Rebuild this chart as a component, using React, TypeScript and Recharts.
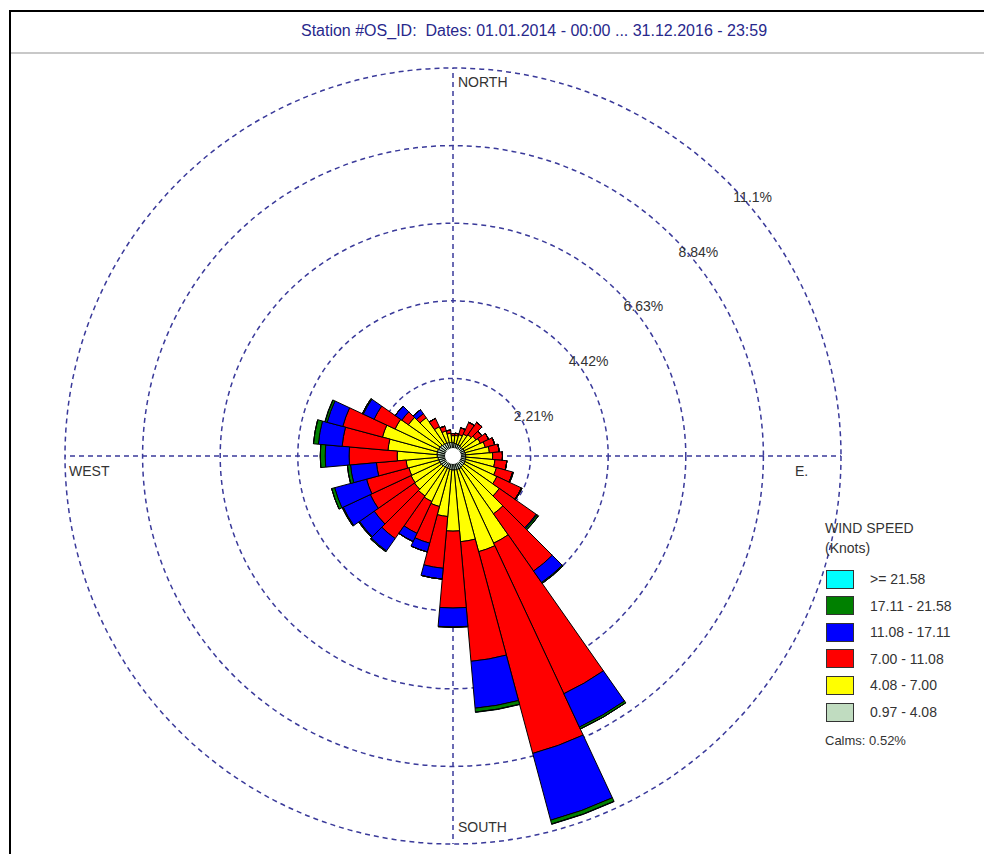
import React from 'react';
import {
  RadialBarChart,
  RadialBar,
  PolarGrid,
  PolarAngleAxis,
  PolarRadiusAxis
} from 'recharts';

// 36 sectors, 10 degrees each, clockwise from north
const directions = [
  '0', '10', '20', '30', '40', '50', '60', '70', '80',
  '90', '100', '110', '120', '130', '140', '150', '160', '170',
  '180', '190', '200', '210', '220', '230', '240', '250', '260',
  '270', '280', '290', '300', '310', '320', '330', '340', '350'
];

// frequency (%) per speed class
const speed0to4 = [
  0.38, 0.36, 0.35, 0.35, 0.34, 0.34, 0.35, 0.35, 0.36,
  0.36, 0.37, 0.37, 0.38, 0.38, 0.39, 0.40, 0.40, 0.40,
  0.40, 0.39, 0.38, 0.38, 0.39, 0.40, 0.41, 0.42, 0.43,
  0.45, 0.46, 0.46, 0.45, 0.44, 0.42, 0.41, 0.40, 0.39
];
const speed4to7 = [
  0.20, 0.23, 0.28, 0.34, 0.40, 0.46, 0.51, 0.60, 0.68,
  0.77, 0.83, 0.91, 1.00, 1.23, 1.62, 2.34, 2.42, 2.05,
  1.74, 1.34, 1.11, 1.05, 1.00, 0.94, 0.91, 0.88, 0.91,
  1.14, 1.40, 1.62, 1.37, 1.11, 0.91, 0.51, 0.34, 0.26
];
const speed7to11 = [
  0.06, 0.06, 0.20, 0.37, 0.43, 0.20, 0.26, 0.28, 0.28,
  0.28, 0.34, 0.48, 0.77, 1.28, 1.99, 4.73, 5.95, 3.42,
  2.19, 1.48, 1.08, 1.00, 1.48, 1.40, 1.28, 1.25, 0.85,
  1.37, 1.31, 1.17, 0.66, 0.23, 0.14, 0.26, 0.14, 0.09
];
const speed11to17 = [
  0, 0, 0, 0, 0, 0, 0, 0, 0,
  0, 0, 0, 0, 0.03, 0.40, 1.05, 1.97, 1.34,
  0.54, 0.31, 0.26, 0.26, 0.43, 0.51, 0.85, 0.94, 0.74,
  0.68, 0.68, 0.46, 0.34, 0.23, 0.14, 0, 0, 0
];
const speed17to21 = [
  0, 0, 0, 0, 0, 0, 0, 0, 0,
  0, 0, 0.02, 0.02, 0.05, 0.03, 0.06, 0.11, 0.11,
  0.01, 0, 0, 0, 0.03, 0.03, 0.03, 0.09, 0.09,
  0.14, 0.14, 0.06, 0.03, 0, 0, 0, 0, 0
];
const speedOver21 = [
  0, 0, 0, 0, 0, 0, 0, 0, 0,
  0, 0, 0, 0, 0, 0, 0, 0.01, 0.01,
  0, 0, 0, 0, 0, 0, 0, 0, 0,
  0, 0, 0.01, 0, 0, 0, 0, 0, 0
];

const ringTicks = [2.21, 4.42, 6.63, 8.84, 11.05];
const compassNames: Record<string, string> = {
  '0': 'NORTH',
  '90': 'E.',
  '180': 'SOUTH',
  '270': 'WEST'
};
const calmsText = 'Calms: 0.52%';
const titleText = 'Station #OS_ID:  Dates: 01.01.2014 - 00:00 ... 31.12.2016 - 23:59';

const data = directions.map((dir, i) => ({
  dir,
  s1: speed0to4[i],
  s2: speed4to7[i],
  s3: speed7to11[i],
  s4: speed11to17[i],
  s5: speed17to21[i],
  s6: speedOver21[i]
}));

// bottom of the stack first
const bins = [
  { key: 's1', label: '0.97 - 4.08', color: '#c0dcc0' },
  { key: 's2', label: '4.08 - 7.00', color: '#ffff00' },
  { key: 's3', label: '7.00 - 11.08', color: '#ff0000' },
  { key: 's4', label: '11.08 - 17.11', color: '#0000ff' },
  { key: 's5', label: '17.11 - 21.58', color: '#008000' },
  { key: 's6', label: '>= 21.58', color: '#00ffff' }
];

const FONT = '"Liberation Sans", Arial, sans-serif';
const CX = 453;
const CY = 456;
const GRID = '#3a3a9a';

// label offset from the tick point (tick sits on the sector edge)
const compassOffset: Record<string, [number, number]> = {
  '0': [-29.5, 25.5],
  '90': [-52.5, -14.5],
  '180': [39.5, -18.5],
  '270': [10.5, 54.5]
};

function CompassTick(props: any) {
  const { x, y, payload } = props;
  const name = compassNames[payload.value];
  if (!name) return null;
  const [dx, dy] = compassOffset[payload.value];
  return (
    <text x={x + dx} y={y + dy} fontSize={14} fill="#333" fontFamily={FONT} textAnchor="start">
      {name}
    </text>
  );
}

function RingTick(props: any) {
  const { x, y, payload } = props;
  return (
    <text x={x + 6} y={y + 20} fontSize={14} fill="#333" fontFamily={FONT} textAnchor="start">
      {Number(payload.value).toPrecision(3)}%
    </text>
  );
}

export default function App() {
  const legendRows = [...bins].reverse();
  return (
    <div
      style={{
        position: 'absolute',
        left: 0,
        top: 0,
        width: 984,
        height: 854,
        overflow: 'hidden',
        background: '#fff',
        fontFamily: FONT
      }}
    >
      <div
        style={{
          position: 'absolute',
          left: 9,
          top: 10,
          width: 1100,
          height: 1000,
          borderLeft: '2px solid #000',
          borderTop: '2px solid #000'
        }}
      />
      <div
        style={{
          position: 'absolute',
          left: 11,
          top: 52,
          width: 1000,
          height: 2,
          background: '#c8c8c8'
        }}
      />
      <div
        style={{
          position: 'absolute',
          left: 84,
          width: 900,
          top: 22,
          textAlign: 'center',
          fontSize: 16,
          color: '#28288c',
          whiteSpace: 'pre'
        }}
      >
        {titleText}
      </div>

      <div style={{ position: 'absolute', left: 0, top: 0 }}>
        <RadialBarChart
          width={984}
          height={854}
          data={data}
          layout="centric"
          cx={CX}
          cy={CY}
          innerRadius={0}
          outerRadius={388}
          startAngle={85}
          endAngle={-275}
          barCategoryGap={0}
          margin={{ top: 0, right: 0, bottom: 0, left: 0 }}
        >
          <PolarGrid
            gridType="circle"
            polarAngles={[0, 90, 180, 270]}
            stroke={GRID}
            strokeWidth={1.5}
            strokeDasharray="5 4"
          />
          <PolarAngleAxis
            dataKey="dir"
            type="category"
            axisLine={false}
            tickLine={false}
            tick={<CompassTick />}
          />
          <PolarRadiusAxis
            type="number"
            domain={[0, 11.05]}
            ticks={ringTicks}
            angle={45}
            axisLine={false}
            tickLine={false}
            tick={<RingTick />}
          />
          {bins.map((b) => (
            <RadialBar
              key={b.key}
              dataKey={b.key}
              stackId="wind"
              fill={b.color}
              stroke="#000"
              strokeWidth={1}
              isAnimationActive={false}
            />
          ))}
        </RadialBarChart>
      </div>

      <div
        style={{
          position: 'absolute',
          left: CX - 8,
          top: CY - 8,
          width: 16,
          height: 16,
          borderRadius: '50%',
          background: '#fff'
        }}
      />

      <div style={{ position: 'absolute', left: 825, top: 518, fontSize: 14, color: '#333', lineHeight: '20px' }}>
        <div>WIND SPEED</div>
        <div>(Knots)</div>
      </div>
      {legendRows.map((b, i) => (
        <div
          key={b.key}
          style={{ position: 'absolute', left: 826, top: 569 + i * 26.6, height: 20, display: 'flex', alignItems: 'center' }}
        >
          <div
            style={{
              width: 26,
              height: 17,
              background: b.color,
              border: '1.5px solid #333'
            }}
          />
          <span style={{ marginLeft: 16, fontSize: 14, color: '#333' }}>{b.label}</span>
        </div>
      ))}
      <div style={{ position: 'absolute', left: 825, top: 733, fontSize: 13, color: '#333' }}>{calmsText}</div>
    </div>
  );
}
